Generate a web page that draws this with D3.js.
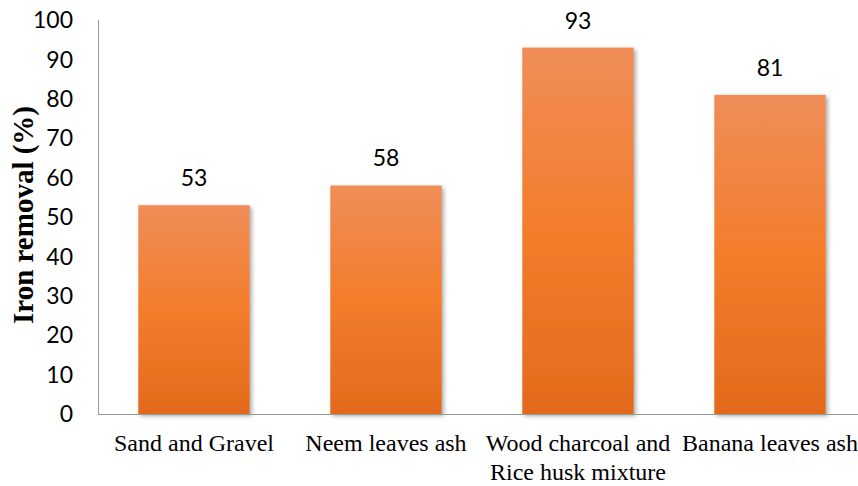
<!DOCTYPE html>
<html>
<head>
<meta charset="utf-8">
<script src="https://cdn.jsdelivr.net/npm/d3@7"></script>
<style>
  html, body { margin: 0; padding: 0; background: #fff; }
  svg { display: block; }
</style>
</head>
<body>
<svg id="chart" width="858" height="486"></svg>
<script>
// Iron removal efficiency by filter media
const categories = [
  ["Sand and Gravel"],
  ["Neem leaves ash"],
  ["Wood charcoal and", "Rice husk mixture"],
  ["Banana leaves ash"]
];
const values = [53, 58, 93, 81];
const yTicks = [0, 10, 20, 30, 40, 50, 60, 70, 80, 90, 100];
const yTitle = "Iron removal (%)";

const svg = d3.select("#chart");
const margin = { left: 98, top: 20, bottom: 414, right: 866 };

const x = d3.scaleBand()
  .domain(d3.range(categories.length))
  .range([margin.left, margin.right])
  .paddingInner(0.42)
  .paddingOuter(0.21);

const y = d3.scaleLinear()
  .domain([0, 100])
  .range([margin.bottom, margin.top]);

const defs = svg.append("defs");
const grad = defs.append("linearGradient")
  .attr("id", "barGrad")
  .attr("x1", 0).attr("y1", 0).attr("x2", 0).attr("y2", 1);
grad.append("stop").attr("offset", "0%").attr("stop-color", "#F08D58");
grad.append("stop").attr("offset", "50%").attr("stop-color", "#F27D2C");
grad.append("stop").attr("offset", "100%").attr("stop-color", "#E26A1C");

const shadow = defs.append("filter")
  .attr("id", "barShadow")
  .attr("x", "-10%").attr("y", "-10%").attr("width", "130%").attr("height", "130%");
shadow.append("feDropShadow")
  .attr("dx", 2).attr("dy", 2)
  .attr("stdDeviation", 2.2)
  .attr("flood-color", "#000")
  .attr("flood-opacity", 0.35);

// Bars
svg.append("g").selectAll("rect")
  .data(values)
  .join("rect")
  .attr("x", (d, i) => x(i))
  .attr("width", x.bandwidth())
  .attr("y", d => y(d))
  .attr("height", d => y(0) - y(d))
  .attr("fill", "url(#barGrad)")
  .attr("filter", "url(#barShadow)");

// Axis lines
svg.append("line")
  .attr("x1", margin.left + 0.5).attr("x2", margin.left + 0.5)
  .attr("y1", y(100)).attr("y2", y(0))
  .attr("stroke", "#9a9a9a").attr("stroke-width", 1);
svg.append("line")
  .attr("x1", margin.left).attr("x2", margin.right)
  .attr("y1", y(0) + 0.5).attr("y2", y(0) + 0.5)
  .attr("stroke", "#9a9a9a").attr("stroke-width", 1);

// Y tick labels
svg.append("g").selectAll("text")
  .data(yTicks)
  .join("text")
  .attr("x", 73)
  .attr("y", d => y(d))
  .attr("dy", "0.36em")
  .attr("text-anchor", "end")
  .attr("font-family", "Lato, 'Open Sans', sans-serif")
  .attr("font-size", 23)
  .attr("fill", "#000")
  .text(d => d);

// Value labels
svg.append("g").selectAll("text")
  .data(values)
  .join("text")
  .attr("x", (d, i) => x(i) + x.bandwidth() / 2)
  .attr("y", d => y(d) - 19)
  .attr("text-anchor", "middle")
  .attr("font-family", "Lato, 'Open Sans', sans-serif")
  .attr("font-size", 23)
  .attr("fill", "#000")
  .text(d => d);

// Category labels
const cat = svg.append("g").selectAll("text")
  .data(categories)
  .join("text")
  .attr("x", (d, i) => x(i) + x.bandwidth() / 2)
  .attr("y", 451)
  .attr("text-anchor", "middle")
  .attr("font-family", "'Liberation Serif', 'Times New Roman', serif")
  .attr("font-size", 24)
  .attr("fill", "#000");
cat.selectAll("tspan")
  .data(d => d)
  .join("tspan")
  .attr("x", function () { return d3.select(this.parentNode).attr("x"); })
  .attr("dy", (d, i) => i === 0 ? 0 : 29)
  .text(d => d);

// Y axis title
svg.append("text")
  .attr("transform", "translate(33, 215) rotate(-90)")
  .attr("text-anchor", "middle")
  .attr("font-family", "'Liberation Serif', 'Times New Roman', serif")
  .attr("font-weight", "bold")
  .attr("font-size", 29)
  .attr("fill", "#000")
  .text(yTitle);
</script>
</body>
</html>
